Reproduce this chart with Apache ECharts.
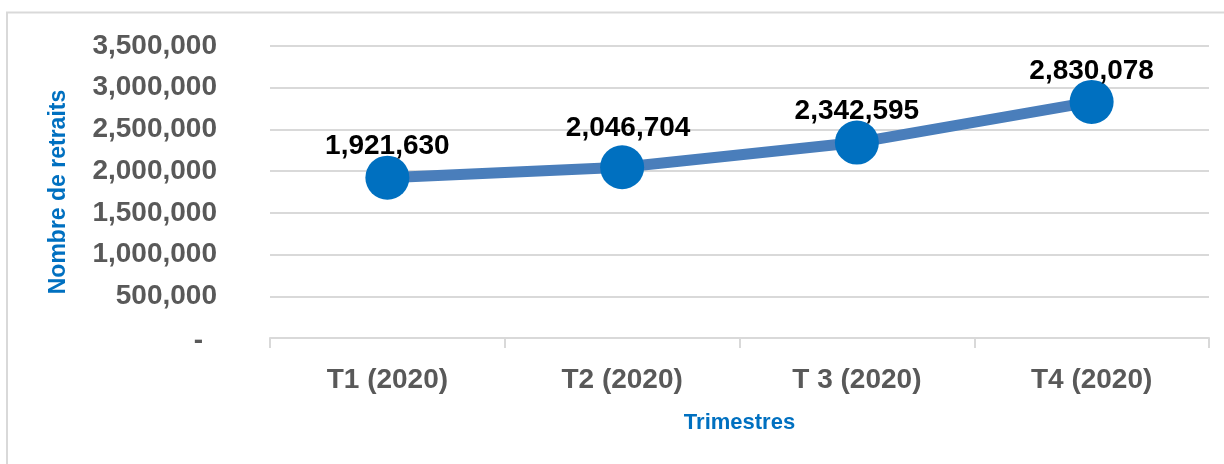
<!DOCTYPE html>
<html>
<head>
<meta charset="utf-8">
<script src="https://cdn.jsdelivr.net/npm/echarts@6/dist/echarts.min.js"></script>
<style>
html,body{margin:0;padding:0;background:#fff;}
#c{width:1224px;height:464px;}
</style>
</head>
<body>
<div id="c"></div>
<script>
const categories = ['T1 (2020)', 'T2 (2020)', 'T 3 (2020)', 'T4 (2020)'];
const retraits = [1921630, 2046704, 2342595, 2830078];
const yTicks = [0, 500000, 1000000, 1500000, 2000000, 2500000, 3000000, 3500000];
const yAxisTitle = 'Nombre de retraits';
const xAxisTitle = 'Trimestres';

const fmt = v => v === 0 ? '-' : v.toLocaleString('en-US');
const FONT = '"Liberation Sans", Arial, sans-serif';

const chart = echarts.init(document.getElementById('c'), null, {renderer: 'canvas'});
chart.setOption({
  animation: false,
  backgroundColor: '#fff',
  graphic: [{
    type: 'rect',
    shape: {x: 7, y: 12.5, width: 1240, height: 480},
    style: {fill: 'none', stroke: '#d9d9d9', lineWidth: 2},
    silent: true
  }],
  grid: {left: 270, right: 15, top: 46, bottom: 126, containLabel: false},
  xAxis: {
    type: 'category',
    data: categories,
    boundaryGap: true,
    name: xAxisTitle,
    nameLocation: 'middle',
    nameGap: 74,
    nameTextStyle: {color: '#0070C0', fontFamily: FONT, fontWeight: 'bold', fontSize: 22},
    axisLine: {lineStyle: {color: '#d9d9d9', width: 2}},
    axisTick: {show: true, length: 10, lineStyle: {color: '#d9d9d9', width: 2}},
    axisLabel: {color: '#595959', fontFamily: FONT, fontWeight: 'bold', fontSize: 28, margin: 28}
  },
  yAxis: {
    type: 'value',
    min: yTicks[0],
    max: yTicks[yTicks.length - 1],
    interval: yTicks[1] - yTicks[0],
    name: yAxisTitle,
    nameLocation: 'middle',
    nameGap: 200,
    nameTextStyle: {color: '#0070C0', fontFamily: FONT, fontWeight: 'bold', fontSize: 23},
    axisLine: {show: false},
    axisTick: {show: false},
    splitLine: {lineStyle: {color: '#d9d9d9', width: 2}},
    axisLabel: {
      color: '#595959', fontFamily: FONT, fontWeight: 'bold', fontSize: 28, margin: 53,
      formatter: v => v === 0 ? '{z|-}' : fmt(v),
      rich: {z: {color: '#595959', fontFamily: FONT, fontWeight: 'bold', fontSize: 28, padding: [6, 14, 0, 0]}}
    }
  },
  series: [{
    type: 'line',
    data: retraits.map((v, i) => i === 1 ? {value: v, label: {offset: [6, -39]}} : v),
    lineStyle: {color: '#4a7ebb', width: 11},
    itemStyle: {color: '#0070C0'},
    symbol: 'circle',
    symbolSize: 44,
    z: 3,
    label: {
      show: true,
      position: 'inside',
      offset: [0, -31],
      color: '#000',
      fontFamily: FONT,
      fontWeight: 'bold',
      fontSize: 28,
      formatter: p => fmt(p.value)
    }
  }]
});
</script>
</body>
</html>
